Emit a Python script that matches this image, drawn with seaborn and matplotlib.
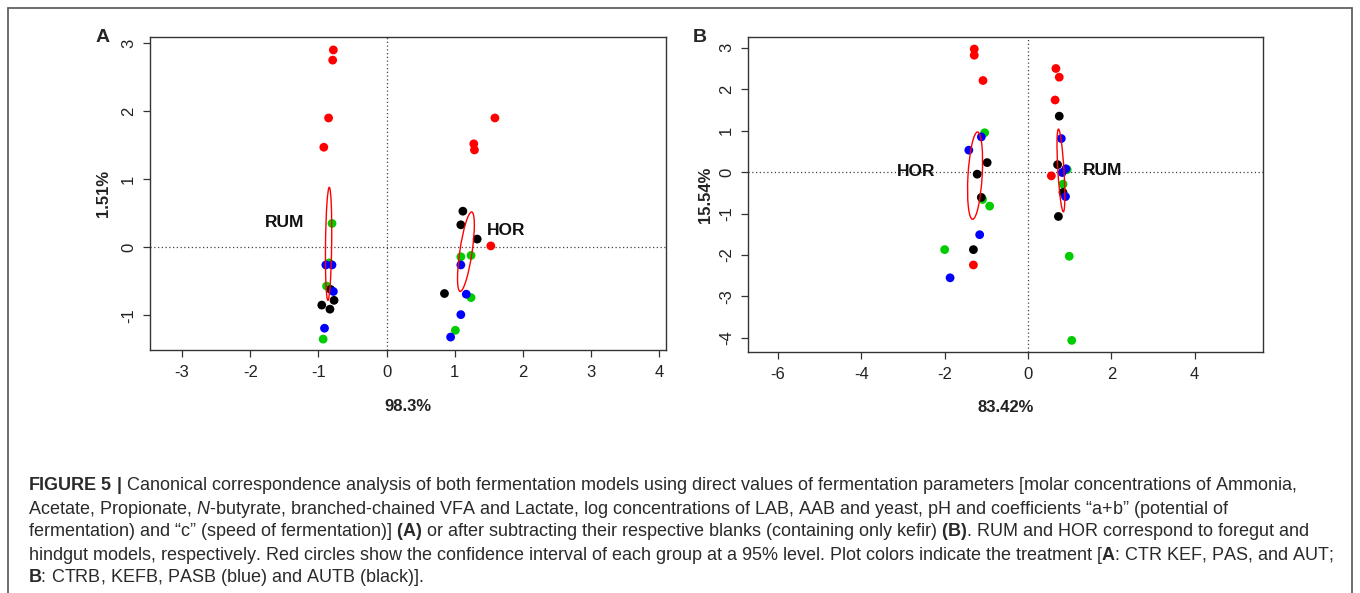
import matplotlib
matplotlib.use("Agg")
import numpy as np
import pandas as pd
import matplotlib.pyplot as plt
import seaborn as sns
from matplotlib.patches import Ellipse
from matplotlib.lines import Line2D

# ---------------- data ----------------
# Panel A (direct values): axis 1 = 98.3 %, axis 2 = 1.51 %
A_red_x   = [-0.78, -0.79, -0.85, -0.92, 1.59, 1.28, 1.29, 1.53]
A_red_y   = [2.90, 2.75, 1.90, 1.47, 1.90, 1.52, 1.43, 0.02]
A_green_x = [-0.80, -0.84, -0.88, -0.93, 1.09, 1.24, 1.24, 1.01]
A_green_y = [0.35, -0.23, -0.57, -1.35, -0.14, -0.12, -0.74, -1.22]
A_black_x = [-0.77, -0.95, -0.83, -0.82, 1.12, 1.09, 1.33, 0.85]
A_black_y = [-0.78, -0.85, -0.91, -0.62, 0.53, 0.33, 0.12, -0.68]
A_blue_x  = [-0.89, -0.80, -0.78, -0.91, 1.09, 1.17, 1.09, 0.94]
A_blue_y  = [-0.26, -0.26, -0.65, -1.19, -0.26, -0.69, -0.99, -1.32]

# Panel B (blank-subtracted): axis 1 = 83.42 %, axis 2 = 15.54 %
B_red_x   = [-1.29, -1.29, -1.08, -1.31, 0.67, 0.75, 0.65, 0.56]
B_red_y   = [2.97, 2.82, 2.21, -2.24, 2.50, 2.29, 1.74, -0.09]
B_green_x = [-1.04, -1.09, -0.92, -2.00, 0.94, 0.84, 0.99, 1.05]
B_green_y = [0.95, -0.66, -0.82, -1.87, 0.06, -0.29, -2.03, -4.06]
B_black_x = [-0.98, -1.22, -1.12, -1.31, 0.75, 0.71, 0.84, 0.73]
B_black_y = [0.23, -0.05, -0.61, -1.87, 1.35, 0.18, -0.49, -1.07]
B_blue_x  = [-1.12, -1.42, -1.16, -1.87, 0.80, 0.91, 0.82, 0.90]
B_blue_y  = [0.85, 0.53, -1.51, -2.55, 0.81, 0.08, -0.01, -0.59]

# 95 % confidence ellipses: group, centre x, centre y, semi-major, semi-minor, angle (deg)
A_ell_group = ["RUM", "HOR"]
A_ell_cx    = [-0.85, 1.165]
A_ell_cy    = [0.05, -0.065]
A_ell_a     = [0.83, 0.59]
A_ell_b     = [0.045, 0.09]
A_ell_ang   = [89.3, 81.7]

B_ell_group = ["HOR", "RUM"]
B_ell_cx    = [-1.27, 0.79]
B_ell_cy    = [-0.085, 0.04]
B_ell_a     = [1.055, 1.0]
B_ell_b     = [0.17, 0.073]
B_ell_ang   = [86.7, 93.4]

# group labels
A_lab_text = ["RUM", "HOR"]
A_lab_x    = [-1.50, 1.76]
A_lab_y    = [0.36, 0.25]
B_lab_text = ["HOR", "RUM"]
B_lab_x    = [-2.68, 1.78]
B_lab_y    = [0.01, 0.05]

A_xticks = [-3, -2, -1, 0, 1, 2, 3, 4]
A_yticks = [-1, 0, 1, 2, 3]
B_xticks = [-6, -4, -2, 0, 2, 4]
B_yticks = [-4, -3, -2, -1, 0, 1, 2, 3]

A_xlabel, A_ylabel = "98.3%", "1.51%"
B_xlabel, B_ylabel = "83.42%", "15.54%"

caption_lines = [
    r"$\mathbf{FIGURE\ 5\ |}$ Canonical correspondence analysis of both fermentation models using direct values of fermentation parameters [molar concentrations of Ammonia,",
    r"Acetate, Propionate, $\mathit{N}$-butyrate, branched-chained VFA and Lactate, log concentrations of LAB, AAB and yeast, pH and coefficients “a+b” (potential of",
    r"fermentation) and “c” (speed of fermentation)] $\mathbf{(A)}$ or after subtracting their respective blanks (containing only kefir) $\mathbf{(B)}$. RUM and HOR correspond to foregut and",
    r"hindgut models, respectively. Red circles show the confidence interval of each group at a 95% level. Plot colors indicate the treatment [$\mathbf{A}$: CTR KEF, PAS, and AUT;",
    r"$\mathbf{B}$: CTRB, KEFB, PASB (blue) and AUTB (black)].",
]

# ---------------- style ----------------
sns.set_theme(style="ticks")
plt.rcParams["font.family"] = ["Liberation Sans", "DejaVu Sans"]
plt.rcParams["mathtext.fontset"] = "custom"
plt.rcParams["mathtext.rm"] = "Liberation Sans"
plt.rcParams["mathtext.it"] = "Liberation Sans:italic"
plt.rcParams["mathtext.bf"] = "Liberation Sans:bold"
plt.rcParams["axes.unicode_minus"] = False

palette = {"red": "#FF0000", "green": "#00CD00", "black": "#000000", "blue": "#0000FF"}

W, H = 1360, 593
fig = plt.figure(figsize=(W / 100, H / 100), dpi=100)
fig.patch.set_facecolor("white")


def px_axes(l, t, r, b):
    return fig.add_axes([l / W, 1 - b / H, (r - l) / W, (b - t) / H])


def make_df(groups):
    frames = []
    for name, xs, ys in groups:
        frames.append(pd.DataFrame({"x": xs, "y": ys, "col": name}))
    return pd.concat(frames, ignore_index=True)


def draw_panel(ax, df, ell, labels, xlim, ylim, xticks, yticks, xlabel, ylabel,
               xl_y, yl_x):
    ax.axhline(0, color="#444444", lw=0.9, ls=(0, (1, 2)), zorder=1)
    ax.axvline(0, color="#444444", lw=0.9, ls=(0, (1, 2)), zorder=1)
    sns.scatterplot(data=df, x="x", y="y", hue="col", palette=palette, s=40,
                    linewidth=0, edgecolor="none", legend=False, ax=ax, zorder=3)
    for g, cx, cy, a, b, ang in zip(*ell):
        ax.add_patch(Ellipse((cx, cy), 2 * a, 2 * b, angle=ang, fill=False,
                             edgecolor="#FF0000", lw=1.0, zorder=4))
    for t, x, y in zip(*labels):
        ax.text(x, y, t, ha="center", va="center", fontsize=12.5,
                fontweight="bold", color="#111111", zorder=5)
    ax.set_xlim(*xlim)
    ax.set_ylim(*ylim)
    ax.set_xticks(xticks)
    ax.set_yticks(yticks)
    ax.set_xticklabels([str(v) for v in xticks])
    ax.set_yticklabels([str(v) for v in yticks])
    for s in ax.spines.values():
        s.set_visible(True)
        s.set_color("#333333")
        s.set_linewidth(1.0)
    ax.tick_params(axis="both", direction="out", length=5, width=0.9,
                   color="#333333", labelsize=12, labelcolor="#222222")
    ax.tick_params(axis="x", pad=6)
    ax.tick_params(axis="y", pad=5)
    for lbl in ax.get_yticklabels():
        lbl.set_rotation(90)
        lbl.set_va("center")
    ax.set_xlabel(xlabel, fontsize=12, fontweight="bold", color="#222222")
    ax.set_ylabel(ylabel, fontsize=12, fontweight="bold", color="#222222")
    ax.xaxis.set_label_coords(0.5, xl_y)
    ax.yaxis.set_label_coords(yl_x, 0.5)
    ax.xaxis.label.set_va("center")
    ax.yaxis.label.set_va("center")
    ax.grid(False)


axA = px_axes(150, 37, 666, 350)
axB = px_axes(748, 37, 1263, 352)

dfA = make_df([("red", A_red_x, A_red_y), ("green", A_green_x, A_green_y),
               ("black", A_black_x, A_black_y), ("blue", A_blue_x, A_blue_y)])
dfB = make_df([("red", B_red_x, B_red_y), ("green", B_green_x, B_green_y),
               ("black", B_black_x, B_black_y), ("blue", B_blue_x, B_blue_y)])

draw_panel(axA, dfA,
           (A_ell_group, A_ell_cx, A_ell_cy, A_ell_a, A_ell_b, A_ell_ang),
           (A_lab_text, A_lab_x, A_lab_y),
           (-3.47, 4.10), (-1.51, 3.09), A_xticks, A_yticks, A_xlabel, A_ylabel,
           -0.179, -0.091)
draw_panel(axB, dfB,
           (B_ell_group, B_ell_cx, B_ell_cy, B_ell_a, B_ell_b, B_ell_ang),
           (B_lab_text, B_lab_x, B_lab_y),
           (-6.72, 5.64), (-4.34, 3.26), B_xticks, B_yticks, B_xlabel, B_ylabel,
           -0.175, -0.082)

# panel letters
fig.text(103 / W, 1 - 37 / H, "A", fontsize=14, fontweight="bold", ha="center", va="center")
fig.text(700 / W, 1 - 37 / H, "B", fontsize=14, fontweight="bold", ha="center", va="center")

# outer frame (open at the bottom edge of the crop)
frame_kw = dict(color="#555555", lw=1.2, transform=fig.transFigure)
fig.add_artist(Line2D([8 / W, 8 / W], [0, 1 - 8 / H], **frame_kw))
fig.add_artist(Line2D([8 / W, 1352 / W], [1 - 8 / H, 1 - 8 / H], **frame_kw))
fig.add_artist(Line2D([1352 / W, 1352 / W], [0, 1 - 8 / H], **frame_kw))

# caption, size fitted so the first line spans the same width as the reference
cap_y = [486, 509, 532, 555, 578]
size0 = 12.0
texts = []
for line, y in zip(caption_lines, cap_y):
    texts.append(fig.text(28 / W, 1 - y / H, line, fontsize=size0, color="#2a2a2a",
                          ha="left", va="center"))
fig.canvas.draw()
r = fig.canvas.get_renderer()
w0 = texts[0].get_window_extent(r).width
new_size = size0 * (1269.0 / w0)
for t in texts:
    t.set_fontsize(new_size)

fig.savefig("out.png", dpi=100, facecolor="white")
